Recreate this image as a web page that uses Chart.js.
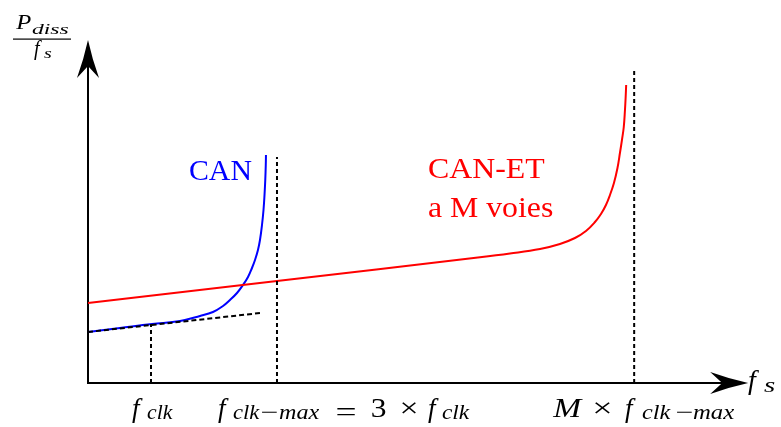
<!DOCTYPE html>
<html><head><meta charset="utf-8">
<script src="https://cdn.jsdelivr.net/npm/chart.js@4.4.0/dist/chart.umd.min.js"></script>
<style>html,body{margin:0;padding:0;background:#fff;}</style>
</head><body>
<canvas id="c" width="781" height="427"></canvas>
<script>
// ---- data (x in units of f_clk, y in arbitrary units of P_diss/f_s) ----
const canX   = [0, 0.508, 1.016, 1.46, 1.778, 1.984, 2.143, 2.254, 2.365, 2.46, 2.54, 2.603, 2.651, 2.698,
                2.73, 2.762, 2.786, 2.802, 2.814, 2.822, 2.825];
const canY   = [0.51, 0.55, 0.59, 0.62, 0.67, 0.71, 0.77, 0.83, 0.90, 0.98, 1.06, 1.15, 1.23, 1.33,
                1.43, 1.58, 1.73, 1.88, 2.03, 2.18, 2.28];
const canetX = [0, 3, 6.222, 6.698, 7.175, 7.492, 7.73, 7.905, 8.048, 8.143, 8.222, 8.286, 8.349, 8.405,
                8.444, 8.476, 8.505, 8.524, 8.535, 8.543];
const canetY = [0.80, 1.02, 1.257, 1.295, 1.34, 1.39, 1.45, 1.52, 1.61, 1.69, 1.78, 1.88, 2.00, 2.15,
                2.30, 2.43, 2.56, 2.73, 2.86, 2.98];
const tangentX = [0, 2.73];
const tangentY = [0.51, 0.70];
const markerX   = [1, 3, 8.67];          // f_clk, f_clk-max, M x f_clk-max
const markerTop = [0.59, 2.26, 3.12];
const axisXEnd = 10.48, axisYEnd = 3.43;
const seriesNames = ['CAN', 'CAN-ET', 'a M voies'];

const SERIF = '"Liberation Serif","Times New Roman",serif';
const pts = (xs, ys) => xs.map((x, i) => ({x, y: ys[i]}));

const datasets = [];
datasets.push({data: pts(tangentX, tangentY), showLine: true, borderColor: '#000', borderWidth: 2,
  borderDash: [5, 3], pointRadius: 0, clip: false});
markerX.forEach((mx, i) => datasets.push({data: [{x: mx, y: 0}, {x: mx, y: markerTop[i]}], showLine: true,
  borderColor: '#000', borderWidth: 2, borderDash: [4, 3], pointRadius: 0, clip: false}));
datasets.push({data: pts(canetX, canetY), showLine: true, borderColor: '#ff0000', borderWidth: 2,
  tension: 0.4, pointRadius: 0, clip: false});
datasets.push({data: pts(canX, canY), showLine: true, borderColor: '#0000ff', borderWidth: 2,
  tension: 0.4, pointRadius: 0, clip: false});

// draw a text piece with its visible left edge at x and (optionally) visible width w
function seg(ctx, text, italic, size, x, y, w) {
  ctx.font = (italic ? 'italic ' : '') + size + 'px ' + SERIF;
  ctx.textAlign = 'left'; ctx.textBaseline = 'alphabetic';
  const m = ctx.measureText(text);
  const vis = m.actualBoundingBoxLeft + m.actualBoundingBoxRight;
  const s = w ? w / vis : 1;
  ctx.save();
  ctx.translate(x, y);
  ctx.scale(s, 1);
  ctx.fillText(text, m.actualBoundingBoxLeft, 0);
  ctx.restore();
}

function arrow(ctx, tx, ty, dx, dy) {
  const L = 38, H = 11, N = 26;
  const px = -dy, py = dx;
  ctx.beginPath();
  ctx.moveTo(tx, ty);
  ctx.quadraticCurveTo(tx - dx * L * 0.5 + px * H * 0.38, ty - dy * L * 0.5 + py * H * 0.38,
                       tx - dx * L + px * H, ty - dy * L + py * H);
  ctx.lineTo(tx - dx * N, ty - dy * N);
  ctx.lineTo(tx - dx * L - px * H, ty - dy * L - py * H);
  ctx.quadraticCurveTo(tx - dx * L * 0.5 - px * H * 0.38, ty - dy * L * 0.5 - py * H * 0.38, tx, ty);
  ctx.closePath();
  ctx.fill();
}

const axisPlugin = {
  id: 'axes',
  beforeDatasetsDraw(chart) {
    const {ctx, scales: {x, y}} = chart;
    const x0 = x.getPixelForValue(0), y0 = y.getPixelForValue(0);
    const xe = x.getPixelForValue(axisXEnd), ye = y.getPixelForValue(axisYEnd);
    ctx.save();
    ctx.strokeStyle = '#000'; ctx.fillStyle = '#000'; ctx.lineWidth = 2;
    ctx.beginPath(); ctx.moveTo(x0 - 1, y0); ctx.lineTo(xe - 26, y0); ctx.stroke();
    ctx.beginPath(); ctx.moveTo(x0, y0 + 1); ctx.lineTo(x0, ye + 26); ctx.stroke();
    arrow(ctx, xe, y0, 1, 0);
    arrow(ctx, x0, ye, 0, -1);
    ctx.restore();
  },
  afterDraw(chart) {
    const {ctx} = chart;
    ctx.save();
    ctx.fillStyle = '#000';
    // y-axis label  P_diss / f_s
    seg(ctx, 'P', true, 20, 15, 29, 16);
    seg(ctx, 'diss', true, 15, 32, 34, 37);
    ctx.fillRect(13, 38.5, 58, 1.2);
    seg(ctx, 'f', true, 20, 34, 55, 0);
    seg(ctx, 's', true, 15, 44, 58, 8);
    // x-axis label  f_s
    seg(ctx, 'f', true, 28, 748, 389, 0);
    seg(ctx, 's', true, 21, 764, 392, 11);
    // marker labels
    const B = 417, S = 419;
    // f_clk
    seg(ctx, 'f', true, 27, 132, B, 0);
    seg(ctx, 'clk', true, 21, 147, S, 26);
    // f_clk-max = 3 x f_clk
    seg(ctx, 'f', true, 27, 218, B, 0);
    seg(ctx, 'clk', true, 21, 233, S, 27);
    seg(ctx, '\u2212', false, 21, 262, S, 15);
    seg(ctx, 'max', true, 21, 279, S, 41);
    seg(ctx, '=', false, 27, 337, B + 4, 18);
    seg(ctx, '3', false, 27, 372, B, 14);
    seg(ctx, '\u00d7', false, 27, 402, B, 15);
    seg(ctx, 'f', true, 27, 428, B, 0);
    seg(ctx, 'clk', true, 21, 442, S, 28);
    // M x f_clk-max
    seg(ctx, 'M', true, 27, 552, B, 31);
    seg(ctx, '\u00d7', false, 27, 595, B, 16);
    seg(ctx, 'f', true, 27, 625, B, 0);
    seg(ctx, 'clk', true, 21, 642, S, 29);
    seg(ctx, '\u2212', false, 21, 677, S, 15);
    seg(ctx, 'max', true, 21, 693, S, 42);
    // series names
    ctx.fillStyle = '#0000ff';
    seg(ctx, seriesNames[0], false, 29, 190, 180, 62);
    ctx.fillStyle = '#ff0000';
    seg(ctx, seriesNames[1], false, 29, 429, 178, 116);
    seg(ctx, seriesNames[2], false, 29, 429, 217, 124);
    ctx.restore();
  }
};

new Chart(document.getElementById('c').getContext('2d'), {
  type: 'scatter',
  data: {datasets},
  options: {
    responsive: false, animation: false,
    layout: {padding: {left: 88, right: 41, top: 40, bottom: 44}},
    plugins: {legend: {display: false}, tooltip: {enabled: false}},
    scales: {
      x: {type: 'linear', min: 0, max: 10.35, display: false},
      y: {type: 'linear', min: 0, max: 3.43, display: false}
    }
  },
  plugins: [axisPlugin]
});
</script>
</body></html>
